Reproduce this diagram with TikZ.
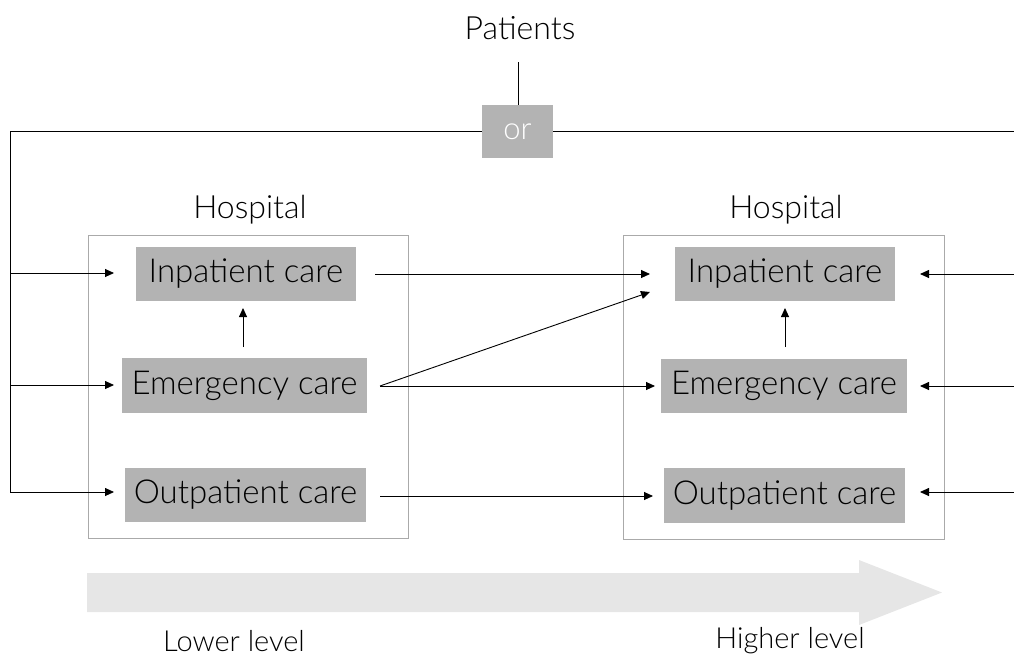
\documentclass[tikz,border=0pt]{standalone}
\usepackage{fontspec}
\setmainfont{Lato}[UprightFont=* Light]
\usetikzlibrary{arrows.meta}
\definecolor{boxgray}{HTML}{B3B3B3}
\definecolor{framegray}{HTML}{AAAAAA}
\definecolor{arrowgray}{HTML}{E6E6E6}
\tikzset{
  care/.style={fill=boxgray, draw=none, inner sep=0pt, font=\fontsize{33}{36}\selectfont, text=black},
  frame/.style={draw=framegray, line width=1pt},
  lbl/.style={inner sep=0pt, font=\fontsize{32}{36}\selectfont},
  lvl/.style={inner sep=0pt, anchor=base, font=\fontsize{29}{32}\selectfont},
  conn/.style={line width=0.9pt, -{Triangle[length=9pt,width=8pt]}},
  plain/.style={line width=0.9pt},
}
\begin{document}
\begin{tikzpicture}[x=1pt,y=-1pt]
\useasboundingbox (0,0) rectangle (1014,659);
% frames
\node[frame, minimum width=320pt, minimum height=303pt, inner sep=0pt] (H1) at (248,386.5) {};
\node[frame, minimum width=321pt, minimum height=304pt, inner sep=0pt] (H2) at (783.5,387) {};
\node[lbl] (hl1) at (250,210) {Hospital};
\node[lbl] (hl2) at (786,210) {Hospital};
\node[lbl] (pat) at (520,28) {Patients};
% care boxes
\node[care, minimum width=220pt, minimum height=54pt] (in1) at (246,274) {Inpatient care};
\node[care, minimum width=245pt, minimum height=55pt] (em1) at (244.5,385.5) {Emergency care};
\node[care, minimum width=241pt, minimum height=54pt] (out1) at (245.5,495) {Outpatient care};
\node[care, minimum width=220pt, minimum height=54pt] (in2) at (785,274) {Inpatient care};
\node[care, minimum width=246pt, minimum height=54pt] (em2) at (784,386) {Emergency care};
\node[care, minimum width=241pt, minimum height=55pt] (out2) at (784.5,495.5) {Outpatient care};
% or box
\node[fill=boxgray, minimum width=71pt, minimum height=53pt, inner sep=0pt, text=white, font=\fontsize{31}{34}\selectfont] (or) at (517.5,131.5) {or};
% coordinates
\coordinate (ptop) at (518,62);
\coordinate (lc) at (10,131.5);
\coordinate (rc) at (1014,131.5);
\coordinate (l1) at (10,273);
\coordinate (l2) at (10,385);
\coordinate (l3) at (10,492);
\coordinate (r1) at (1014,274);
\coordinate (r2) at (1014,386);
\coordinate (r3) at (1014,492);
% top lines
\draw[plain] (ptop) -- (or.north -| ptop);
\draw[plain] (or.west) -- (lc) -- (l3);
\draw[plain] (or.east) -- (rc);
% left feed arrows
\draw[conn] (l1) -- (114,273);
\draw[conn] (l2) -- (114,385);
\draw[conn] (l3) -- (114,492);
% right feed arrows
\draw[conn] (r1) -- (920,274);
\draw[conn] (r2) -- (920,386);
\draw[conn] (r3) -- (920,492);
% up arrows
\draw[conn] (243,347) -- (243,308);
\draw[conn] (785,347) -- (785,308);
% between hospitals
\draw[conn] (375,274) -- (650,274);
\draw[conn] (380,386) -- (650,292);
\draw[conn] (380,386) -- (655,386);
\draw[conn] (380,496) -- (653,496);
% level arrow
\fill[arrowgray] (87,573) -- (859,573) -- (859,560) -- (942,592.5) -- (859,625) -- (859,612) -- (87,612) -- cycle;
\node[lvl] (low) at (234,651) {Lower level};
\node[lvl] (high) at (790,648) {Higher level};
\end{tikzpicture}
\end{document}
